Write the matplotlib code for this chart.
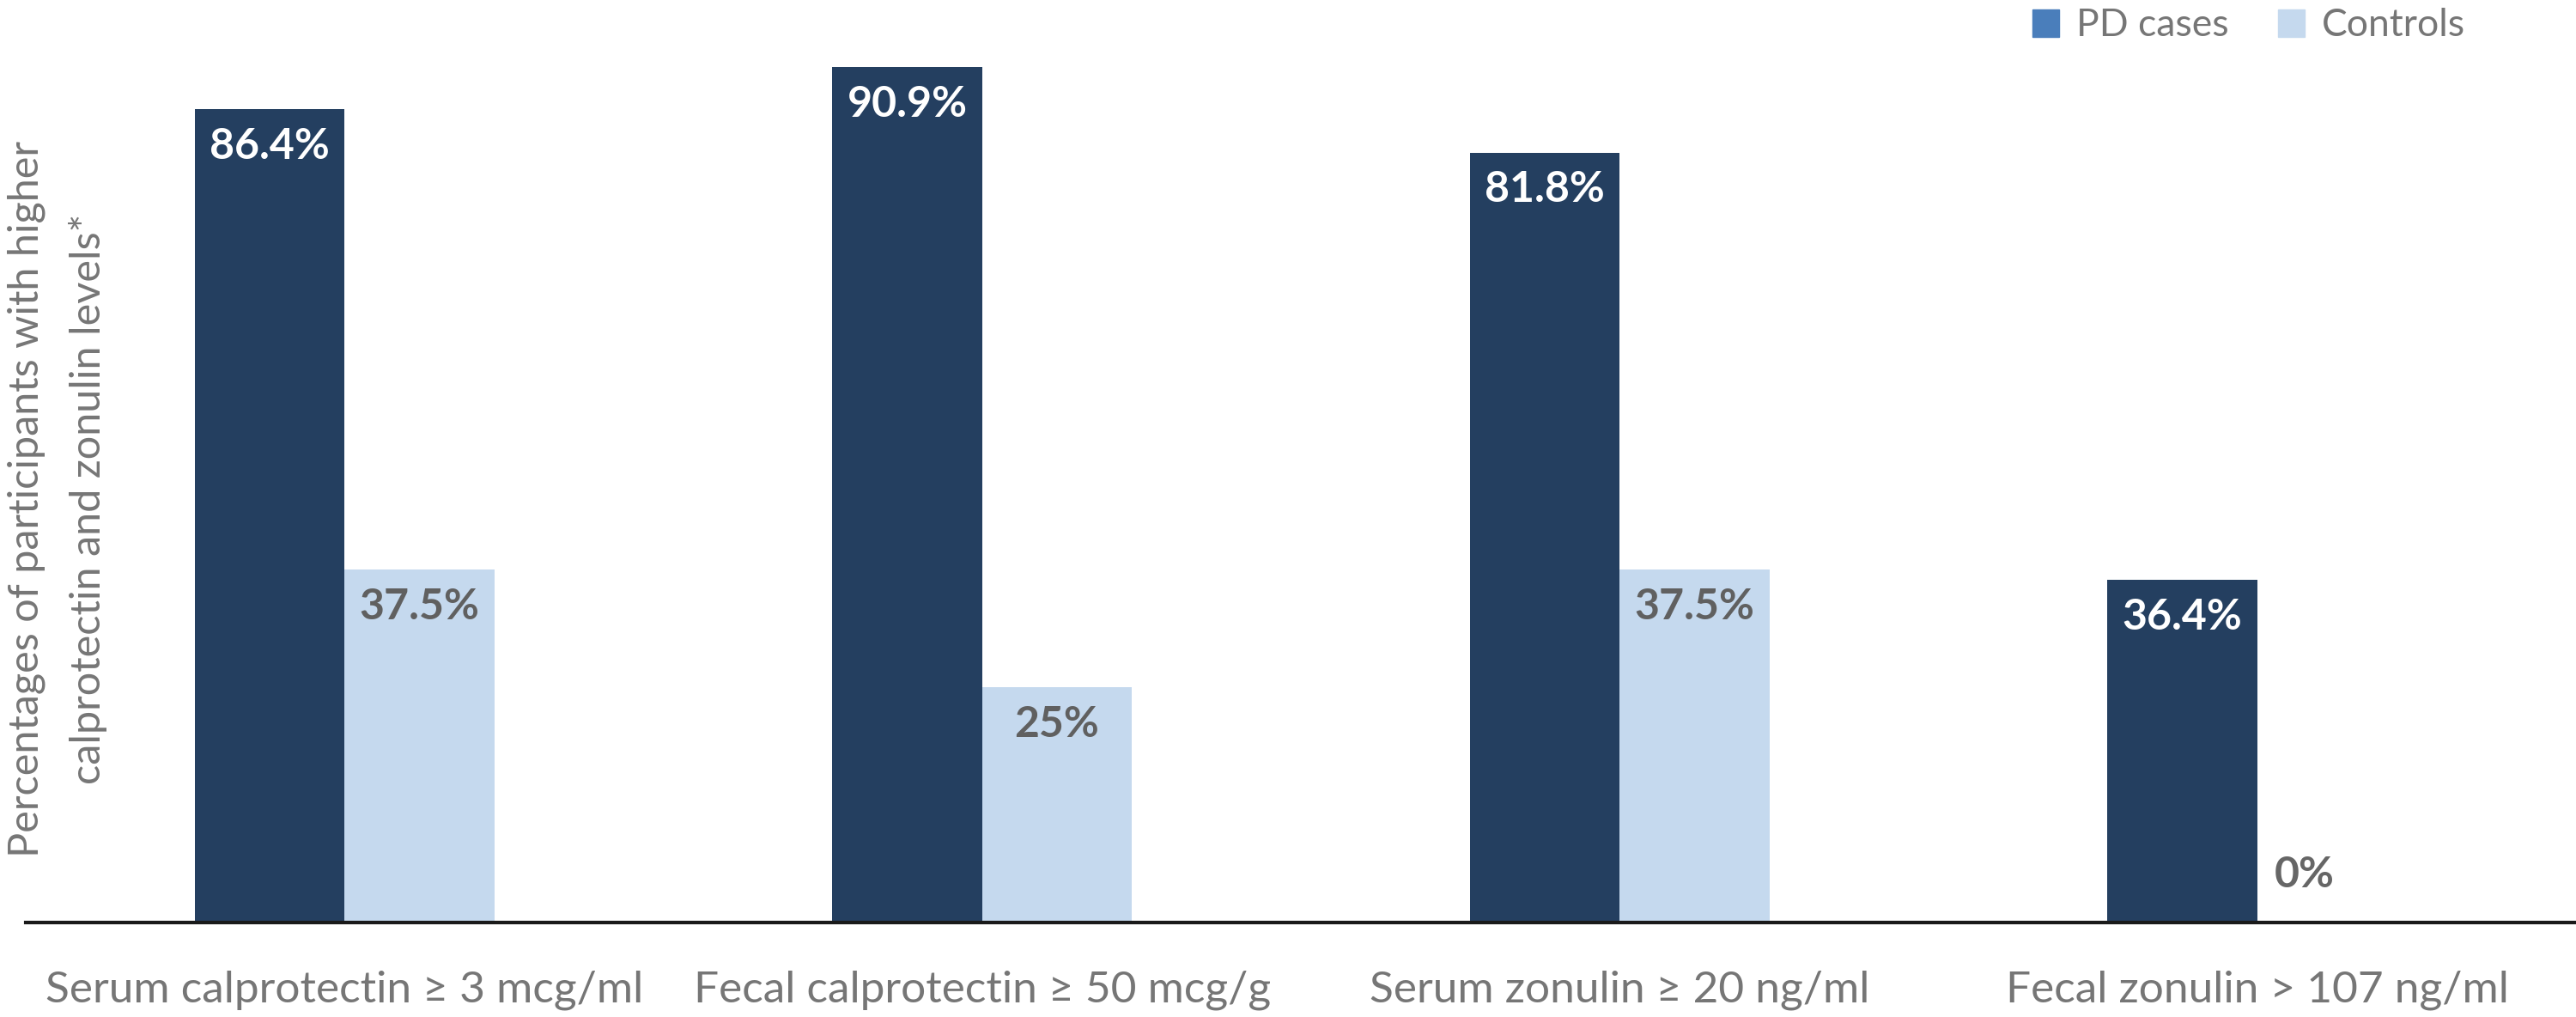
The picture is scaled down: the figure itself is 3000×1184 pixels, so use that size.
import matplotlib.pyplot as plt
from matplotlib.patches import Patch
import numpy as np

categories = ["Serum calprotectin \u2265 3 mcg/ml", "Fecal calprotectin \u2265 50 mcg/g",
              "Serum zonulin \u2265 20 ng/ml", "Fecal zonulin > 107 ng/ml"]
pd_cases = [86.4, 90.9, 81.8, 36.4]
controls = [37.5, 25.0, 37.5, 0.0]
pd_labels = ["86.4%", "90.9%", "81.8%", "36.4%"]
ctrl_labels = ["37.5%", "25%", "37.5%", "0%"]
ylabel_lines = ["Percentages of participants with higher", "calprotectin and zonulin levels*"]

dark = "#243f60"
light = "#c5d9ee"
gray = "#767676"

plt.rcParams['font.family'] = ['Lato', 'DejaVu Sans']

fig = plt.figure(figsize=(30, 11.84), dpi=100)
ax = fig.add_axes([0.01, 1 - 1074 / 1184, 0.99, 1074 / 1184])

x = np.arange(len(categories))
w = 0.235
b1 = ax.bar(x - w / 2, pd_cases, w, color=dark)
b2 = ax.bar(x + w / 2, controls, w, color=light)

for rect, lab in zip(b1, pd_labels):
    ax.annotate(lab, (rect.get_x() + rect.get_width() / 2, rect.get_height()),
                xytext=(0, -15), textcoords="offset points", ha="center", va="top",
                color="white", fontsize=36, fontweight="bold")
for rect, lab, v in zip(b2, ctrl_labels, controls):
    if v == 0:
        # zero bar: label sits just above the baseline
        ax.annotate(lab, (rect.get_x() + rect.get_width() / 2, 0),
                    xytext=(-23, 24), textcoords="offset points", ha="center", va="bottom",
                    color="#666666", fontsize=36, fontweight="bold")
    else:
        ax.annotate(lab, (rect.get_x() + rect.get_width() / 2, rect.get_height()),
                    xytext=(0, -15), textcoords="offset points", ha="center", va="top",
                    color="#606060", fontsize=36, fontweight="bold")

ax.set_xlim(-0.5, 3.5)
ax.set_ylim(0, 98)
ax.set_xticks(x)
ax.set_xticklabels(categories, fontsize=37, color=gray)
ax.tick_params(axis="x", length=0, pad=40)
ax.set_yticks([])
for s in ["top", "right", "left"]:
    ax.spines[s].set_visible(False)
ax.spines["bottom"].set_linewidth(3)
ax.spines["bottom"].set_color("#1a1a1a")

# two-line rotated y label, placed by baseline
for xpos, line in zip([45 / 3000, 117 / 3000], ylabel_lines):
    fig.text(xpos, 0.509, line, rotation=90, rotation_mode="anchor",
             ha="center", va="baseline", fontsize=35, color=gray)

handles = [Patch(color="#4a7ebb"), Patch(color=light)]
fig.legend(handles, ["PD cases", "Controls"], loc="center right", bbox_to_anchor=(0.957, 1 - 30 / 1184),
           ncol=2, frameon=False, fontsize=32, labelcolor=gray, handlelength=0.7, handleheight=0.7,
           handletextpad=0.44, columnspacing=1.3, borderpad=0, borderaxespad=0)

fig.savefig("out.png", dpi=100)
